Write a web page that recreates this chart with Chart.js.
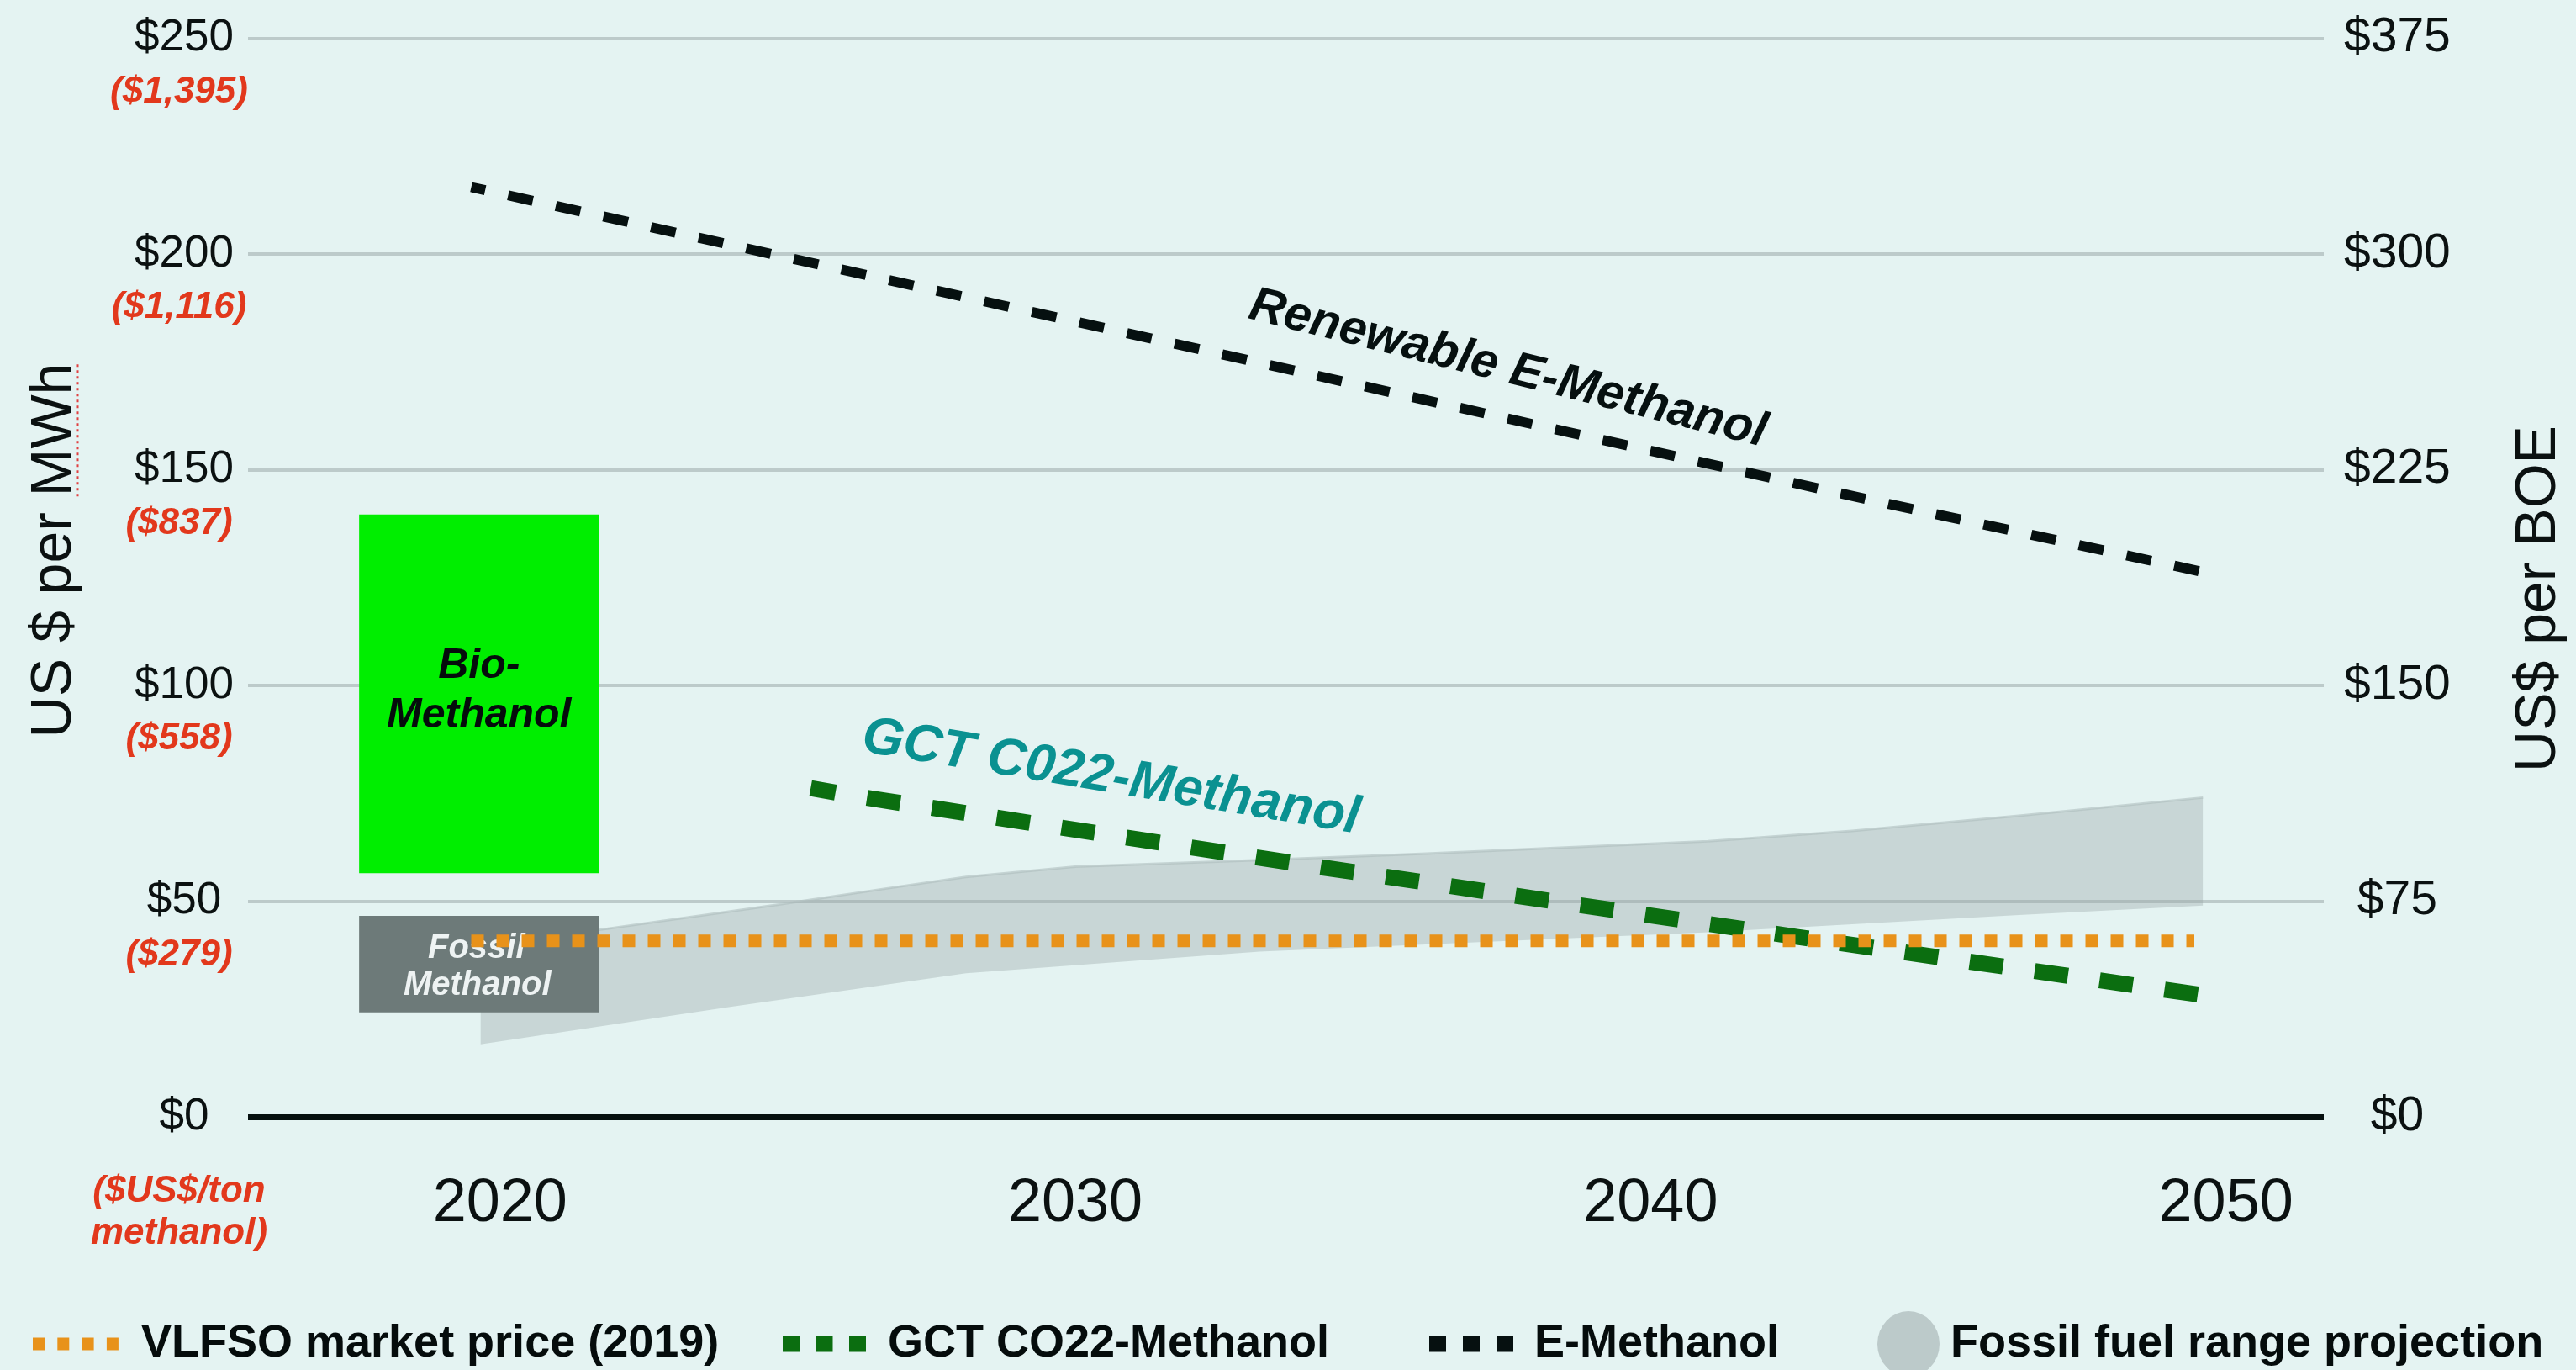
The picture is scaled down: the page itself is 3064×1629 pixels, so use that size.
<!DOCTYPE html>
<html>
<head>
<meta charset="utf-8">
<script src="https://cdn.jsdelivr.net/npm/chart.js@4.4.0/dist/chart.umd.min.js"></script>
<style>
html, body { margin: 0; padding: 0; background: #e4f3f2; overflow: hidden; }
canvas { display: block; }
</style>
</head>
<body>
<canvas id="c" width="3064" height="1629"></canvas>
<script>
// ---------------- data ----------------
const xTickYears = [2020, 2030, 2040, 2050];
const leftTickValues = [0, 50, 100, 150, 200, 250];
const leftTickLabels = ['$0', '$50', '$100', '$150', '$200', '$250'];
const tonTickLabels = [['($US$/ton', 'methanol)'], ['($279)'], ['($558)'], ['($837)'], ['($1,116)'], ['($1,395)']];
const rightTickValues = [0, 75, 150, 225, 300, 375];
const rightTickLabels = ['$0', '$75', '$150', '$225', '$300', '$375'];

const vlfsoYears = [2019.5, 2049.45];
const vlfsoPrice = [40.8, 40.8];
const gctYears = [2025.4, 2026.2, 2034.3, 2042.4, 2049.6];
const gctPrice = [76.2, 74.3, 57.8, 42.0, 28.2];
const eMethYears = [2019.5, 2032.3, 2043.3, 2049.6];
const eMethPrice = [215.5, 177.5, 144.5, 126.3];
const fossilUpperYears = [2019.66, 2021.7, 2023.9, 2024.9, 2026.7, 2028.1, 2030.0, 2033.2, 2036.1, 2041.0, 2043.5, 2046.4, 2049.6];
const fossilUpper = [39.0, 43.3, 47.4, 49.3, 52.9, 55.6, 58.0, 59.5, 61.0, 63.9, 66.3, 69.8, 74.0];
const fossilLowerYears = [2019.66, 2024.0, 2028.1, 2033.2, 2041.0, 2046.4, 2049.6];
const fossilLower = [16.8, 25.5, 33.3, 38.3, 42.8, 46.8, 49.0];
const boxYears = [2017.55, 2021.72];
const bioRange = [56.5, 139.6];
const fossilMethRange = [24.2, 46.6];

const legendLabels = ['VLFSO market price (2019)', 'GCT CO22-Methanol', 'E-Methanol', 'Fossil fuel range projection'];
const axisTitles = ['US $ per MWh', 'US$ per BOE'];
const lineLabels = ['Renewable E-Methanol', 'GCT C022-Methanol'];
const boxLabels = [['Bio-', 'Methanol'], ['Fossil', 'Methanol']];

// ---------------- helpers ----------------
const pts = (xs, ys) => xs.map((x, i) => ({ x: x, y: ys[i] }));
const FONT = "'Liberation Sans', Arial, Helvetica, sans-serif";
Chart.defaults.font.family = FONT;

const TEXT = '#0b1111';
const ORANGE = '#e8921a';
const DGREEN = '#0b6e10';
const BLACK = '#061010';
const TEAL = '#0a9191';
const RED = '#e2381c';
const GRID = '#bccaca';

const decor = {
  id: 'decor',
  afterDatasetDraw(chart, args) {
    if (args.index !== 3) return;
    const { ctx, scales: { x, y } } = chart;
    ctx.save();
    ctx.textAlign = 'center';
    ctx.textBaseline = 'middle';
    const bx = x.getPixelForValue((boxYears[0] + boxYears[1]) / 2);
    ctx.font = 'italic bold 50px ' + FONT;
    ctx.fillStyle = '#050c0c';
    let by = y.getPixelForValue((bioRange[0] + bioRange[1]) / 2);
    ctx.fillText(boxLabels[0][0], bx, by - 33);
    ctx.fillText(boxLabels[0][1], bx, by + 26);
    ctx.font = 'italic bold 40px ' + FONT;
    ctx.fillStyle = '#eef3f3';
    by = y.getPixelForValue((fossilMethRange[0] + fossilMethRange[1]) / 2);
    ctx.fillText(boxLabels[1][0], bx - 3, by - 18);
    ctx.fillText(boxLabels[1][1], bx - 2, by + 26);
    ctx.restore();
  },
  afterDatasetsDraw(chart) {
    const { ctx, scales: { x, y } } = chart;
    const rot = (text, xv, yv, deg, font, color) => {
      ctx.save();
      ctx.translate(x.getPixelForValue(xv), y.getPixelForValue(yv));
      ctx.rotate(deg * Math.PI / 180);
      ctx.font = font;
      ctx.fillStyle = color;
      ctx.textAlign = 'center';
      ctx.textBaseline = 'middle';
      ctx.fillText(text, 0, 0);
      ctx.restore();
    };
    rot(lineLabels[0], 2037.52, 173.3, 14.0, 'italic bold 58px ' + FONT, BLACK);
    rot(lineLabels[1], 2030.62, 78.6, 9.4, 'italic bold 63px ' + FONT, TEAL);
  },
  afterDraw(chart) {
    const { ctx, scales: { y } } = chart;
    ctx.save();
    // red secondary tick labels ($/ton methanol)
    ctx.font = 'italic bold 44px ' + FONT;
    ctx.fillStyle = RED;
    ctx.textAlign = 'center';
    ctx.textBaseline = 'middle';
    leftTickValues.forEach((v, i) => {
      const py = y.getPixelForValue(v);
      const lines = tonTickLabels[i];
      const first = lines.length > 1 ? 89 : 64;
      lines.forEach((t, k) => ctx.fillText(t, 213, py + first + k * 50));
    });
    // axis titles
    ctx.font = '68px ' + FONT;
    ctx.fillStyle = TEXT;
    ctx.save();
    ctx.translate(65, 654.5);
    ctx.rotate(-Math.PI / 2);
    ctx.fillText(axisTitles[0], 0, 0);
    const w = ctx.measureText(axisTitles[0]).width;
    const mw = ctx.measureText('MWh').width;
    ctx.strokeStyle = '#e04040';
    ctx.lineWidth = 3;
    ctx.setLineDash([3, 4]);
    ctx.beginPath();
    ctx.moveTo(w / 2 - mw, 27);
    ctx.lineTo(w / 2, 27);
    ctx.stroke();
    ctx.restore();
    ctx.save();
    ctx.translate(3020, 712);
    ctx.rotate(-Math.PI / 2);
    ctx.fillText(axisTitles[1], 0, 0);
    ctx.restore();

    // legend
    const ly = 1598;
    ctx.fillStyle = ORANGE;
    for (let k = 0; k < 4; k++) ctx.fillRect(39 + k * 29.3, ly - 7.5, 14, 15);
    ctx.fillStyle = DGREEN;
    for (let k = 0; k < 3; k++) ctx.fillRect(931 + k * 39.5, ly - 9.5, 20, 19);
    ctx.fillStyle = BLACK;
    for (let k = 0; k < 3; k++) ctx.fillRect(1700 + k * 40, ly - 9.5, 20, 19);
    ctx.fillStyle = GRID;
    ctx.beginPath();
    ctx.ellipse(2270, ly, 37, 39, 0, 0, Math.PI * 2);
    ctx.fill();
    ctx.font = 'bold 54px ' + FONT;
    ctx.fillStyle = '#050c0c';
    ctx.textAlign = 'left';
    const lx = [168, 1056, 1825, 2320];
    legendLabels.forEach((t, i) => ctx.fillText(t, lx[i], ly));
    ctx.restore();
  }
};

const lineDs = (label, data, color, width, dash, extra) => Object.assign({
  label: label, data: data, borderColor: color, borderWidth: width, borderDash: dash,
  borderCapStyle: 'butt', pointRadius: 0, fill: false, tension: 0
}, extra || {});
const areaDs = (label, data, bg, fill, extra) => Object.assign({
  label: label, data: data, backgroundColor: bg, borderColor: 'rgba(0,0,0,0)', borderWidth: 0,
  pointRadius: 0, fill: fill, tension: 0
}, extra || {});

const noPad = s => { s.paddingTop = 0; s.paddingBottom = 0; };

new Chart(document.getElementById('c'), {
  type: 'line',
  data: {
    datasets: [
      lineDs(legendLabels[0], pts(vlfsoYears, vlfsoPrice), ORANGE, 15, [15, 15]),
      lineDs(legendLabels[1], pts(gctYears, gctPrice), DGREEN, 19, [40, 38], { borderDashOffset: 10 }),
      lineDs(legendLabels[2], pts(eMethYears, eMethPrice), BLACK, 12, [30, 28], { borderDashOffset: 13 }),
      areaDs('Fossil Methanol top', pts(boxYears, [fossilMethRange[1], fossilMethRange[1]]), '#6d7a79', '+1'),
      areaDs('Fossil Methanol bottom', pts(boxYears, [fossilMethRange[0], fossilMethRange[0]]), 'rgba(0,0,0,0)', false),
      areaDs('Bio-Methanol top', pts(boxYears, [bioRange[1], bioRange[1]]), '#00ee00', '+1'),
      areaDs('Bio-Methanol bottom', pts(boxYears, [bioRange[0], bioRange[0]]), 'rgba(0,0,0,0)', false),
      areaDs(legendLabels[3] + ' upper', pts(fossilUpperYears, fossilUpper), 'rgba(150,163,163,0.36)', '+1',
        { borderColor: 'rgba(175,190,190,0.6)', borderWidth: 3 }),
      areaDs(legendLabels[3] + ' lower', pts(fossilLowerYears, fossilLower), 'rgba(0,0,0,0)', false)
    ]
  },
  options: {
    responsive: false,
    animation: false,
    devicePixelRatio: 1,
    layout: { padding: { top: 45.5, left: 0, right: 0, bottom: 0 } },
    plugins: { legend: { display: false }, tooltip: { enabled: false } },
    scales: {
      x: {
        type: 'linear', min: 2015.62, max: 2051.7,
        grid: { display: false }, border: { display: false },
        afterBuildTicks: s => { s.ticks = xTickYears.map(v => ({ value: v })); },
        ticks: { autoSkip: false, maxRotation: 0, padding: 53, font: { size: 72 }, color: TEXT, callback: v => String(v) },
        afterFit: s => { s.height = 1629 - 1328; s.paddingLeft = 0; s.paddingRight = 0; }
      },
      y: {
        position: 'left', min: 0, max: 250, border: { display: false },
        grid: {
          drawTicks: false,
          color: c => (c.tick && c.tick.value === 0) ? BLACK : GRID,
          lineWidth: c => (c.tick && c.tick.value === 0) ? 7 : 4
        },
        afterBuildTicks: s => { s.ticks = leftTickValues.map(v => ({ value: v })); },
        ticks: { crossAlign: 'center', padding: 17, font: { size: 53 }, color: TEXT,
          callback: v => leftTickLabels[leftTickValues.indexOf(v)] },
        afterFit: s => { s.width = 295; noPad(s); }
      },
      y1: {
        position: 'right', min: 0, max: 375, grid: { display: false }, border: { display: false },
        afterBuildTicks: s => { s.ticks = rightTickValues.map(v => ({ value: v })); },
        ticks: { crossAlign: 'center', padding: 16, font: { size: 57 }, color: TEXT,
          callback: v => rightTickLabels[rightTickValues.indexOf(v)] },
        afterFit: s => { s.width = 300; noPad(s); }
      }
    }
  },
  plugins: [decor]
});
</script>
</body>
</html>
